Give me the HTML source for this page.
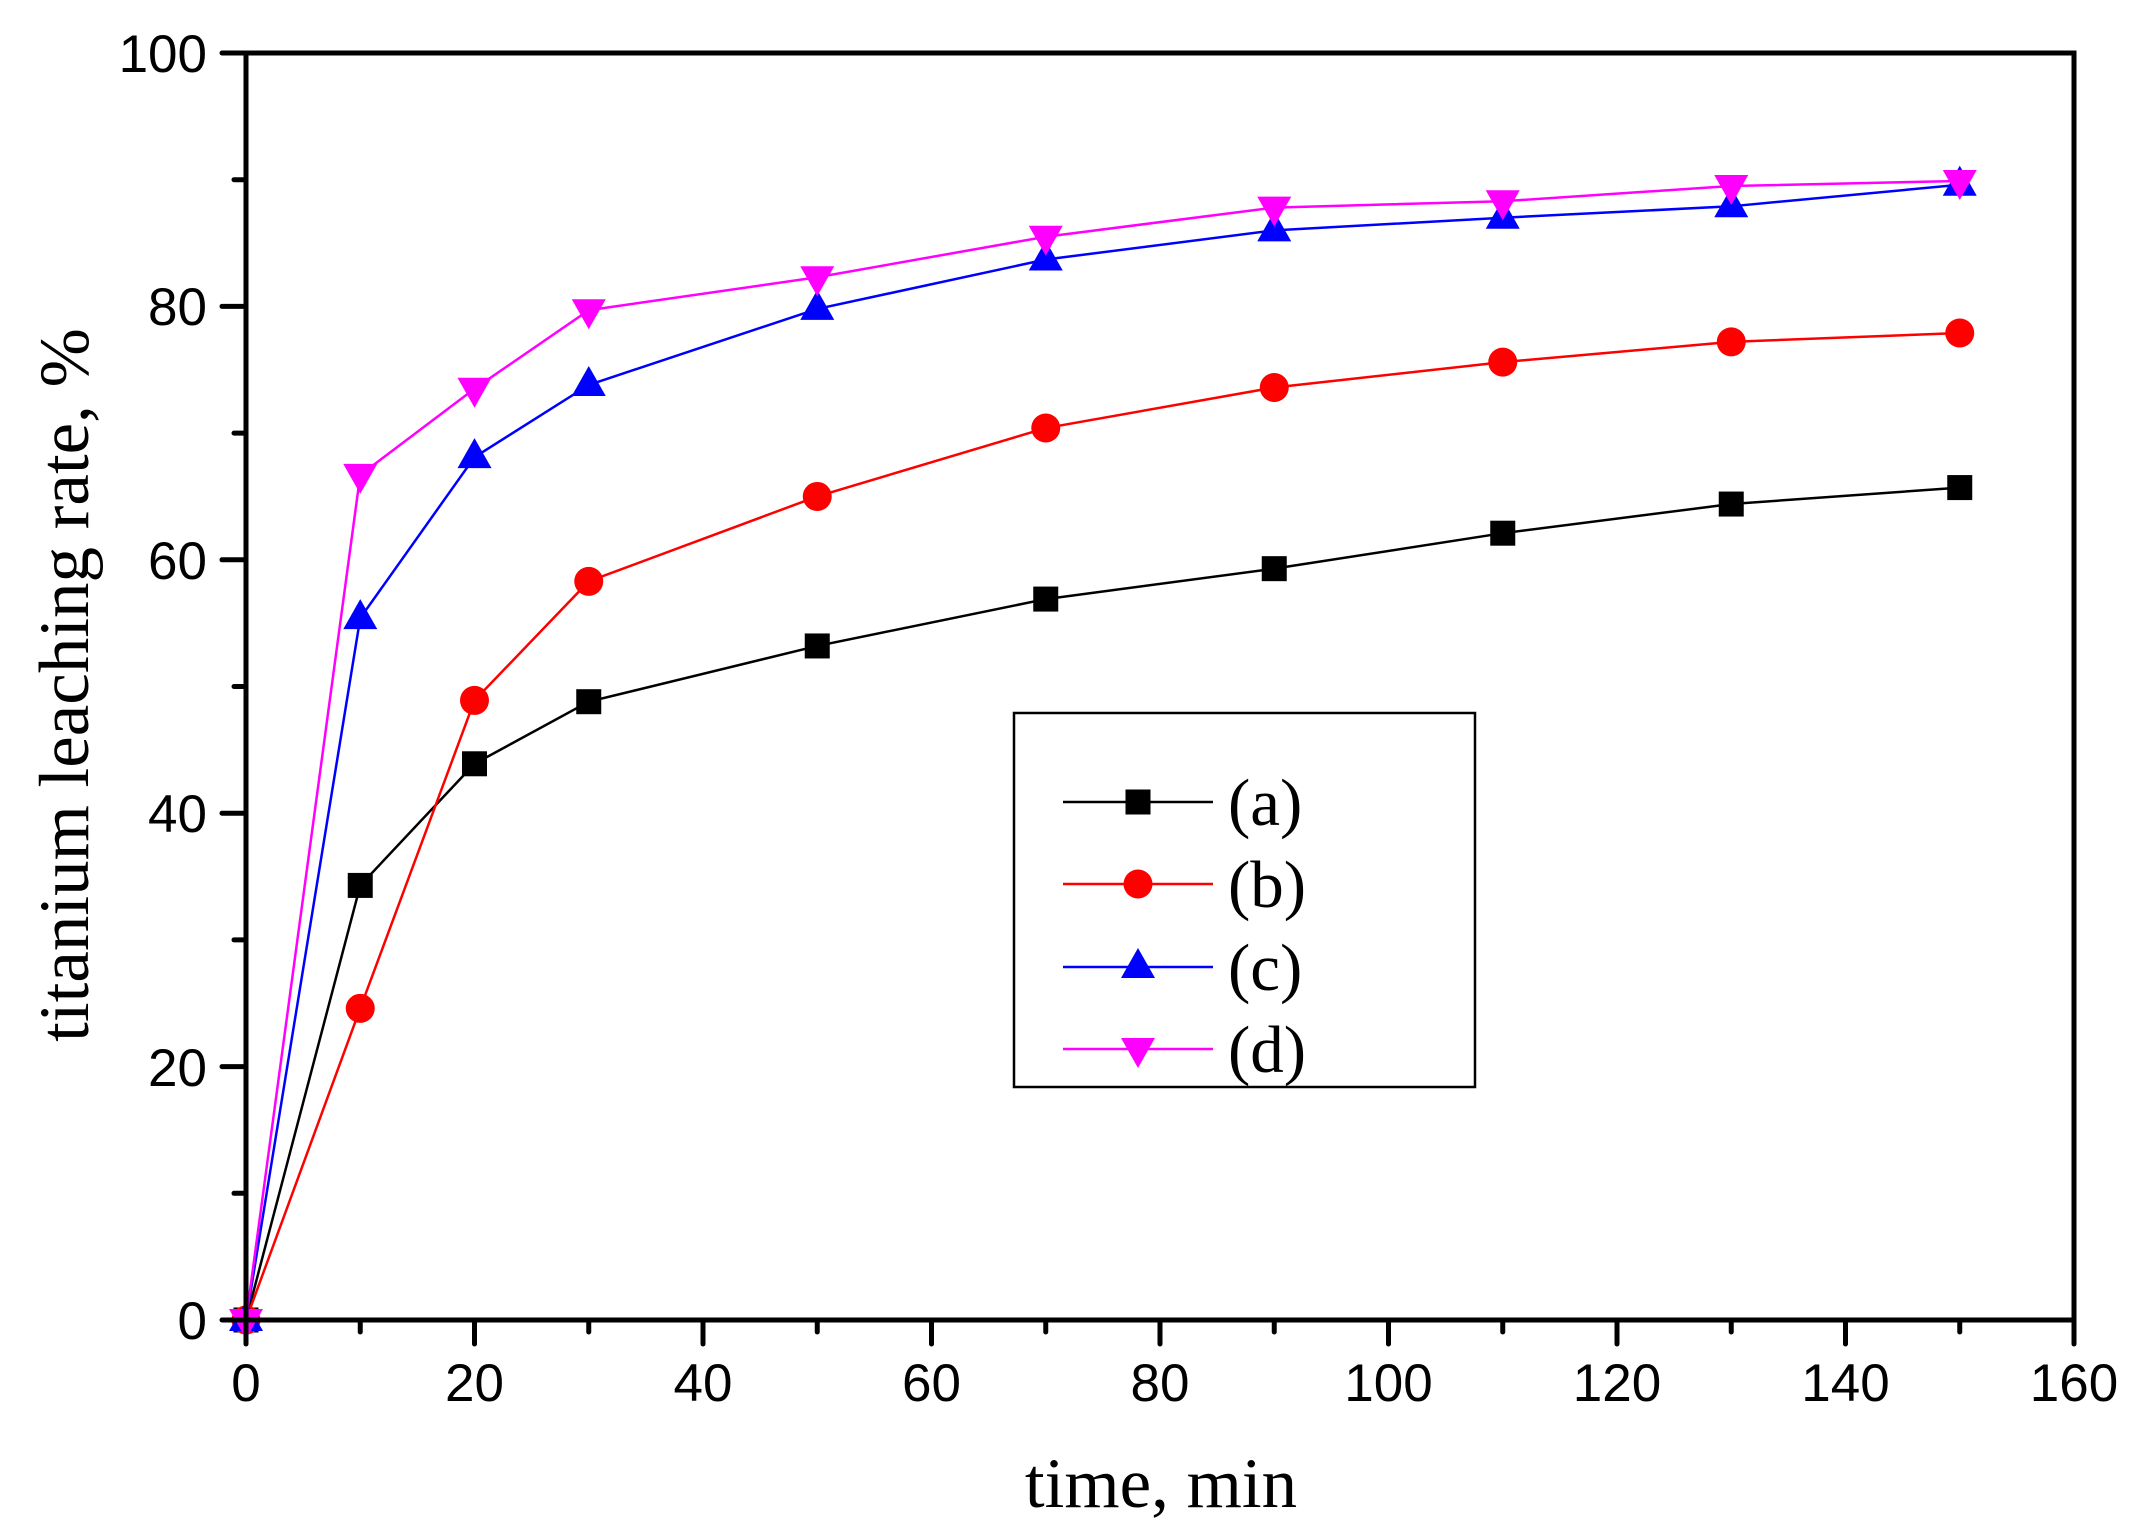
<!DOCTYPE html>
<html><head><meta charset="utf-8"><style>html,body{margin:0;padding:0;background:#fff}svg{display:block}</style></head>
<body>
<svg id="s" width="2147" height="1536" viewBox="0 0 2147 1536" xmlns="http://www.w3.org/2000/svg">
<rect width="2147" height="1536" fill="#fff"/>
<g id="data"></g>
<rect x="246" y="53" width="1828" height="1267" fill="none" stroke="#000" stroke-width="5"/>
<g id="ticks" stroke="#000" stroke-width="5" stroke-linecap="round"></g>
<g font-family="Liberation Sans, Arial, sans-serif" font-size="53" fill="#000">
<text x="246" y="1401" text-anchor="middle">0</text>
<text x="474.5" y="1401" text-anchor="middle">20</text>
<text x="703" y="1401" text-anchor="middle">40</text>
<text x="931.5" y="1401" text-anchor="middle">60</text>
<text x="1160" y="1401" text-anchor="middle">80</text>
<text x="1388.5" y="1401" text-anchor="middle">100</text>
<text x="1617" y="1401" text-anchor="middle">120</text>
<text x="1845.5" y="1401" text-anchor="middle">140</text>
<text x="2074" y="1401" text-anchor="middle">160</text>
<text x="207" y="1339" text-anchor="end">0</text>
<text x="207" y="1086" text-anchor="end">20</text>
<text x="207" y="832" text-anchor="end">40</text>
<text x="207" y="579" text-anchor="end">60</text>
<text x="207" y="325" text-anchor="end">80</text>
<text x="207" y="72" text-anchor="end">100</text>
</g>
<g font-family="Liberation Serif, Times New Roman, serif" font-size="71" fill="#000">
<text x="1161" y="1507" text-anchor="middle">time, min</text>
<text transform="translate(88,685) rotate(-90)" text-anchor="middle">titanium leaching rate, %</text>
</g>
<rect x="1014" y="713" width="461" height="374" fill="#fff" stroke="#000" stroke-width="2.5"/>
<g id="leg"></g>
<g font-family="Liberation Serif, Times New Roman, serif" font-size="67" fill="#000">
<text x="1228" y="825">(a)</text>
<text x="1228" y="907">(b)</text>
<text x="1228" y="990">(c)</text>
<text x="1228" y="1072">(d)</text>
</g>
</svg>
<script>
var NS="http://www.w3.org/2000/svg";
function X(v){return 246+v*11.425}function Y(v){return 1320-v*12.67}
function el(p,t,a){var e=document.createElementNS(NS,t);for(var k in a)e.setAttribute(k,a[k]);p.appendChild(e);return e}
var tk=document.getElementById('ticks');
for(var v=0;v<=160;v+=10){var x=X(v);el(tk,'line',{x1:x,y1:1320,x2:x,y2:(v%20?1332:1344)});}
for(var v=0;v<=100;v+=10){var y=Y(v);el(tk,'line',{x1:246,y1:y,x2:(v%20?234:222),y2:y});}
var xs=[0,10,20,30,50,70,90,110,130,150];
var S=[
{c:'#000',m:'sq',d:[0,34.3,43.9,48.8,53.2,56.9,59.3,62.1,64.4,65.7]},
{c:'#f00',m:'ci',d:[0,24.6,48.9,58.3,65.0,70.4,73.6,75.6,77.2,77.9]},
{c:'#00f',m:'up',d:[0,55.4,68.1,73.8,79.8,83.7,86.0,87.0,87.9,89.6]},
{c:'#f0f',m:'dn',d:[0,66.7,73.5,79.7,82.3,85.5,87.8,88.3,89.5,89.9]}];
function mk(g,m,x,y,c){
 if(m=='sq')el(g,'rect',{x:x-12.5,y:y-12.5,width:25,height:25,fill:c});
 else if(m=='ci')el(g,'circle',{cx:x,cy:y,r:14.5,fill:c});
 else if(m=='up')el(g,'polygon',{points:(x-17)+','+(y+11)+' '+(x+17)+','+(y+11)+' '+x+','+(y-19),fill:c});
 else el(g,'polygon',{points:(x-17)+','+(y-11)+' '+(x+17)+','+(y-11)+' '+x+','+(y+19),fill:c});
}
var dg=document.getElementById('data'),lg=document.getElementById('leg');
var ly=[802,884,967,1049];
S.forEach(function(s,i){
 el(dg,'polyline',{points:xs.map(function(v,j){return X(v)+','+Y(s.d[j])}).join(' '),fill:'none',stroke:s.c,'stroke-width':2.5});
 xs.forEach(function(v,j){mk(dg,s.m,X(v),Y(s.d[j]),s.c)});
 el(lg,'line',{x1:1063,y1:ly[i],x2:1213,y2:ly[i],stroke:s.c,'stroke-width':2.5});
 mk(lg,s.m,1138,ly[i],s.c);
});
</script>
</body></html>
